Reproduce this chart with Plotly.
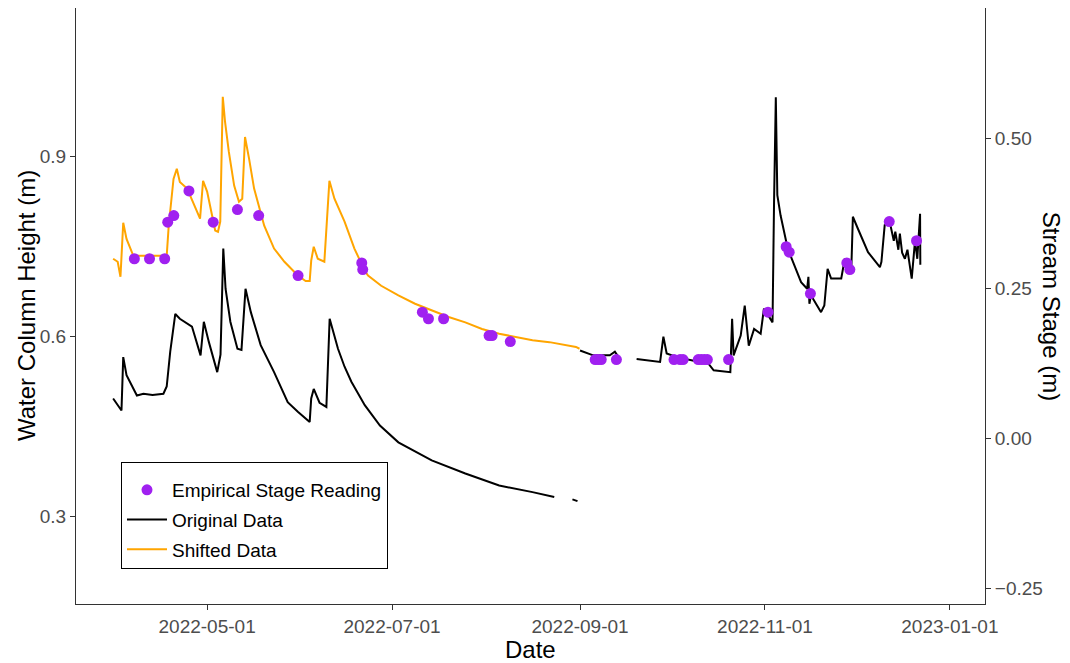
import plotly.graph_objects as go

# ---------------- data ----------------
# Original logger data (water column height, m); None marks gaps
orig_dates = [
    "2022-03-31 00:00", "2022-04-02 18:00", "2022-04-03 08:00", "2022-04-04 10:00", "2022-04-07 20:00",
    "2022-04-10 00:00", "2022-04-13 00:00", "2022-04-16 14:00", "2022-04-17 16:00", "2022-04-18 20:00",
    "2022-04-20 12:00", "2022-04-22 00:00", "2022-04-26 00:00", "2022-04-28 20:00", "2022-04-29 22:00",
    "2022-05-01 14:00", "2022-05-04 08:00", "2022-05-05 10:00", "2022-05-06 08:00", "2022-05-07 02:00",
    "2022-05-08 16:00", "2022-05-11 00:00", "2022-05-12 08:00", "2022-05-13 16:00", "2022-05-15 10:00",
    "2022-05-18 16:00", "2022-05-23 02:00", "2022-05-27 14:00", "2022-05-30 22:00", "2022-06-03 20:00",
    "2022-06-04 08:00", "2022-06-05 04:00", "2022-06-07 02:00", "2022-06-09 08:00", "2022-06-10 10:00",
    "2022-06-11 16:00", "2022-06-13 04:00", "2022-06-15 08:00", "2022-06-17 14:00", "2022-06-22 00:00",
    "2022-06-27 00:00", "2022-07-03 02:00",
    "2022-07-14 02:00", "2022-07-25 04:00", "2022-08-05 08:00", "2022-08-16 08:00", "2022-08-23 12:00",
    "2022-08-26 00:00",
    "2022-08-29 12:00", "2022-08-31 04:00",
    "2022-08-31 20:00",
    "2022-09-01 00:00", "2022-09-05 08:00", "2022-09-10 20:00", "2022-09-12 12:00", "2022-09-13 14:00",
    "2022-09-16 00:00",
    "2022-09-19 16:00", "2022-09-27 10:00", "2022-09-28 12:00", "2022-09-29 14:00", "2022-10-02 22:00",
    "2022-10-08 12:00", "2022-10-12 22:00", "2022-10-15 02:00", "2022-10-20 14:00", "2022-10-21 04:00",
    "2022-10-21 16:00", "2022-10-24 00:00", "2022-10-25 08:00", "2022-10-26 16:00", "2022-10-28 10:00",
    "2022-10-30 14:00", "2022-10-31 16:00", "2022-11-03 12:00", "2022-11-04 00:00", "2022-11-04 14:00",
    "2022-11-05 02:00", "2022-11-06 04:00", "2022-11-08 12:00", "2022-11-12 22:00", "2022-11-14 22:00",
    "2022-11-15 08:00", "2022-11-15 16:00", "2022-11-16 04:00", "2022-11-19 12:00", "2022-11-20 14:00",
    "2022-11-21 16:00", "2022-11-22 20:00", "2022-11-26 04:00", "2022-11-27 08:00", "2022-11-29 12:00",
    "2022-11-30 00:00", "2022-12-01 16:00", "2022-12-05 00:00", "2022-12-08 22:00", "2022-12-09 10:00",
    "2022-12-10 12:00", "2022-12-12 04:00", "2022-12-13 12:00", "2022-12-14 00:00", "2022-12-15 00:00",
    "2022-12-15 12:00", "2022-12-16 06:00", "2022-12-17 04:00", "2022-12-18 00:00", "2022-12-19 10:00",
    "2022-12-20 12:00", "2022-12-21 06:00", "2022-12-22 04:00", "2022-12-22 06:00",
]
orig_values = [
    0.497, 0.477, 0.566, 0.536, 0.502,
    0.505, 0.503, 0.505, 0.517, 0.575,
    0.638, 0.630, 0.617, 0.569, 0.625,
    0.591, 0.541, 0.570, 0.747, 0.680,
    0.625, 0.580, 0.578, 0.680, 0.641,
    0.586, 0.541, 0.491, 0.475, 0.458,
    0.497, 0.513, 0.490, 0.483, 0.630,
    0.608, 0.580, 0.550, 0.525, 0.486,
    0.452, 0.424,
    0.394, 0.372, 0.352, 0.341, 0.333,
    None,
    0.329, 0.326,
    None,
    0.577, 0.569, 0.569, 0.575, 0.567,
    None,
    0.563, 0.558, 0.600, 0.572, 0.566,
    0.560, 0.558, 0.544, 0.541, 0.630,
    0.569, 0.602, 0.652, 0.585, 0.613,
    0.605, 0.647, 0.624, 0.824, 0.999,
    0.836, 0.802, 0.747, 0.691, 0.680,
    0.700, 0.655, 0.669, 0.641, 0.652,
    0.713, 0.697, 0.697, 0.730, 0.715,
    0.800, 0.780, 0.741, 0.716, 0.725,
    0.786, 0.791, 0.760, 0.775, 0.745,
    0.772, 0.740, 0.730, 0.745, 0.697,
    0.760, 0.730, 0.805, 0.720,
]

# Shifted data (water column height, m)
shift_dates = [
    "2022-03-31 00:00", "2022-04-01 12:00", "2022-04-02 10:00", "2022-04-03 08:00", "2022-04-04 10:00",
    "2022-04-06 16:00", "2022-04-12 00:00", "2022-04-17 16:00", "2022-04-18 08:00", "2022-04-19 22:00",
    "2022-04-21 00:00", "2022-04-22 00:00", "2022-04-24 10:00", "2022-04-27 16:00", "2022-04-28 16:00",
    "2022-04-29 16:00", "2022-05-01 00:00", "2022-05-03 16:00", "2022-05-04 14:00", "2022-05-05 08:00",
    "2022-05-06 04:00", "2022-05-06 22:00", "2022-05-08 04:00", "2022-05-09 22:00", "2022-05-11 12:00",
    "2022-05-12 14:00", "2022-05-13 12:00", "2022-05-14 20:00", "2022-05-16 12:00", "2022-05-19 20:00",
    "2022-05-23 02:00", "2022-05-26 12:00", "2022-05-30 22:00", "2022-06-02 12:00", "2022-06-03 20:00",
    "2022-06-04 08:00", "2022-06-05 04:00", "2022-06-06 12:00", "2022-06-08 16:00", "2022-06-10 08:00",
    "2022-06-12 00:00", "2022-06-15 08:00", "2022-06-18 14:00", "2022-06-22 00:00", "2022-06-23 02:00",
    "2022-06-27 10:00", "2022-07-03 02:00", "2022-07-08 14:00", "2022-07-14 02:00", "2022-07-19 16:00",
    "2022-07-25 04:00", "2022-07-30 16:00", "2022-08-05 08:00", "2022-08-10 20:00", "2022-08-16 08:00",
    "2022-08-21 22:00", "2022-08-30 16:00", "2022-08-31 20:00",
]
shift_values = [
    0.730, 0.725, 0.700, 0.790, 0.763,
    0.735, 0.735, 0.735, 0.785, 0.863,
    0.880, 0.858, 0.847, 0.808, 0.797,
    0.860, 0.842, 0.777, 0.775, 0.792,
    1.000, 0.958, 0.908, 0.852, 0.825,
    0.830, 0.933, 0.897, 0.847, 0.785,
    0.747, 0.725, 0.702, 0.693, 0.693,
    0.727, 0.750, 0.730, 0.725, 0.860,
    0.830, 0.792, 0.747, 0.710, 0.702,
    0.685, 0.669, 0.655, 0.644, 0.633,
    0.624, 0.613, 0.605, 0.600, 0.594,
    0.591, 0.583, 0.580,
]

# Empirical stage readings (stream stage, m)
stage_dates = [
    "2022-04-07", "2022-04-12", "2022-04-17", "2022-04-18", "2022-04-20",
    "2022-04-25", "2022-05-03", "2022-05-11", "2022-05-18", "2022-05-31",
    "2022-06-21", "2022-06-21 08:00", "2022-07-11", "2022-07-13", "2022-07-18",
    "2022-08-02", "2022-08-03", "2022-08-09", "2022-09-06", "2022-09-07",
    "2022-09-08", "2022-09-13", "2022-10-02", "2022-10-04", "2022-10-05",
    "2022-10-10", "2022-10-11", "2022-10-12", "2022-10-13", "2022-10-20",
    "2022-11-02", "2022-11-08", "2022-11-09", "2022-11-16", "2022-11-28",
    "2022-11-29", "2022-12-12", "2022-12-21",
]
stage_values = [
    0.300, 0.300, 0.300, 0.361, 0.372,
    0.413, 0.361, 0.382, 0.372, 0.272,
    0.293, 0.282, 0.211, 0.200, 0.200,
    0.172, 0.172, 0.162, 0.132, 0.132,
    0.132, 0.132, 0.132, 0.132, 0.132,
    0.132, 0.132, 0.132, 0.132, 0.132,
    0.211, 0.320, 0.311, 0.242, 0.293,
    0.282, 0.362, 0.330,
]

# axis settings
stage_offset = 0.43          # stream stage = water column height - offset
left_range = [0.1545, 1.148]
x_range = ["2022-03-18 18:00", "2023-01-12 14:00"]
x_ticks = ["2022-05-01", "2022-07-01", "2022-09-01", "2022-11-01", "2023-01-01"]
left_ticks = [0.3, 0.6, 0.9]
right_ticks = [-0.25, 0.0, 0.25, 0.50]

FONT = "Liberation Sans, Arial, sans-serif"
TICK_COLOR = "#4D4D4D"

fig = go.Figure()

fig.add_trace(go.Scatter(
    x=shift_dates, y=shift_values, mode="lines", name="Shifted Data",
    line=dict(color="#FFA500", width=2), legendrank=3, legendgroup="c",
))
fig.add_trace(go.Scatter(
    x=orig_dates, y=orig_values, mode="lines", name="Original Data",
    line=dict(color="black", width=2), connectgaps=False, legendrank=2, legendgroup="b",
))
fig.add_trace(go.Scatter(
    x=stage_dates, y=stage_values, mode="markers", name="Empirical Stage Reading",
    marker=dict(color="#A020F0", size=11), yaxis="y2", legendrank=1, legendgroup="a",
))

axis_common = dict(
    showgrid=False, zeroline=False, showline=True, linecolor="#333333", linewidth=1,
    ticks="outside", ticklen=5, tickcolor="#333333", tickwidth=1,
    tickfont=dict(family=FONT, size=19, color=TICK_COLOR),
)

fig.update_layout(
    width=1070, height=663,
    margin=dict(l=76, r=85, t=8, b=59),
    paper_bgcolor="white", plot_bgcolor="white",
    font=dict(family=FONT, color="black"),
    xaxis=dict(range=x_range, tickvals=x_ticks, tickformat="%Y-%m-%d", **axis_common),
    yaxis=dict(range=left_range, tickvals=left_ticks, tickformat=".1f", **axis_common),
    yaxis2=dict(range=[left_range[0] - stage_offset, left_range[1] - stage_offset],
                tickvals=right_ticks, tickformat=".2f", overlaying="y", side="right",
                **axis_common),
    showlegend=True,
    legend=dict(
        x=0.0495, y=0.238, xanchor="left", yanchor="top",
        bordercolor="black", borderwidth=1, bgcolor="white",
        font=dict(family=FONT, size=19, color="black"),
        title=dict(text=" ", font=dict(size=6)),
        traceorder="grouped", tracegroupgap=2, itemwidth=40,
    ),
    annotations=[
        dict(text="Date", xref="paper", yref="paper", x=0.5, y=-0.077,
             xanchor="center", yanchor="middle", showarrow=False,
             font=dict(family=FONT, size=24, color="black")),
        dict(text="Water Column Height (m)", xref="paper", yref="paper", x=-0.055, y=0.5,
             xanchor="center", yanchor="middle", textangle=-90, showarrow=False,
             font=dict(family=FONT, size=24, color="black")),
        dict(text="Stream Stage (m)", xref="paper", yref="paper", x=1.074, y=0.5,
             xanchor="center", yanchor="middle", textangle=90, showarrow=False,
             font=dict(family=FONT, size=24, color="black")),
    ],
)

fig.write_html("out.html")
